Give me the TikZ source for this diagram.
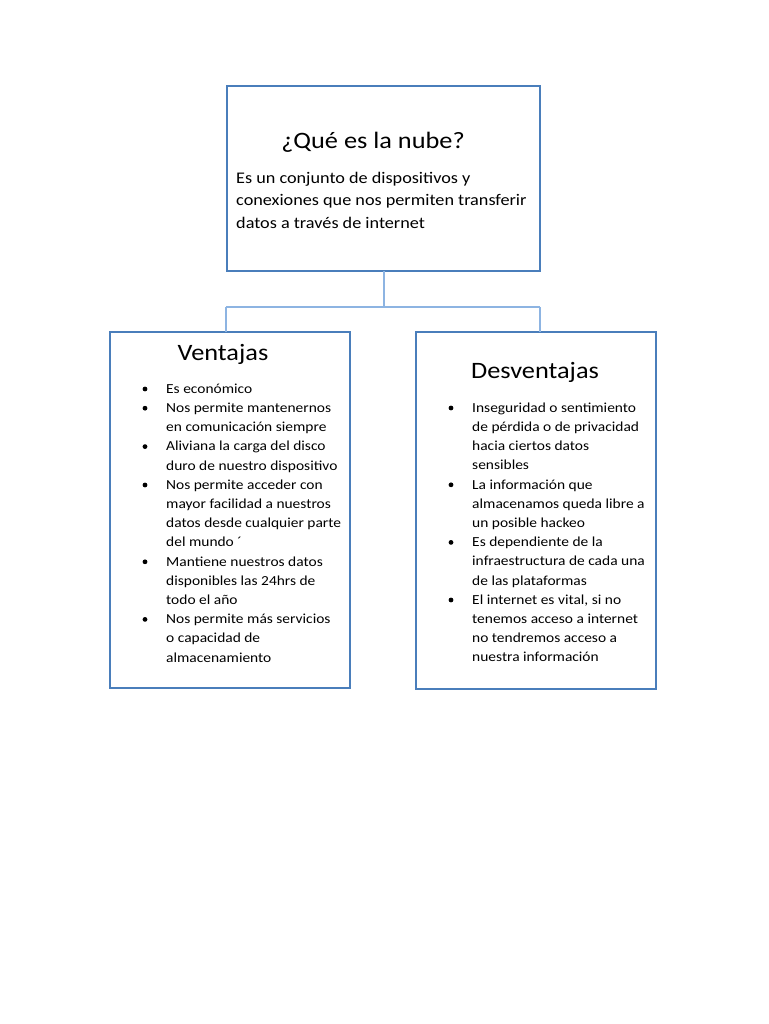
\documentclass[tikz,border=0pt]{standalone}
\usepackage{fontspec}
\setmainfont{Carlito}[FakeStretch=1.12]
\definecolor{boxblue}{RGB}{74,126,187}
\definecolor{linkblue}{RGB}{141,180,226}
\tikzset{
  box/.style={draw=boxblue, line width=1.2pt},
  link/.style={draw=linkblue, line width=1.5pt},
  head/.style={font=\fontsize{23.5}{27}\selectfont, inner sep=0pt, anchor=mid},
  body/.style={font=\fontsize{16.25}{22.5}\selectfont, inner sep=0pt, anchor=mid west},
  item/.style={font=\fontsize{13.8}{19}\selectfont, inner sep=0pt, anchor=mid west},
  bul/.style={circle, fill=black, inner sep=0pt, minimum size=4.8pt}
}
\begin{document}
\begin{tikzpicture}[x=1pt, y=-1pt]
\useasboundingbox[fill=white] (0,0) rectangle (768,1024);
% boxes
\draw[box] (227,86) rectangle (540,271);
\draw[box] (110,332) rectangle (350,688);
\draw[box] (416,332) rectangle (656,689);
\coordinate (topb) at (384,271);
\coordinate (mid) at (384,307);
\coordinate (lft) at (226,307);
\coordinate (rgt) at (540,307);
\coordinate (lbox) at (226,332);
\coordinate (rbox) at (540,332);
\draw[link] (topb) -- (mid);
\draw[link] (lft) -- (rgt);
\draw[link] (lft) -- (lbox);
\draw[link] (rgt) -- (rbox);
% top box text
\node[head] (qtitle) at (373,146) {¿Qué es la nube?};
\node[body] (q1) at (236,181) {Es un conjunto de dispositivos y};
\node[body] (q2) at (236,203.5) {conexiones que nos permiten transferir};
\node[body] (q3) at (236,226) {datos a través de internet};
% Ventajas
\node[head] (vtitle) at (223,358) {Ventajas};
\foreach \t [count=\i] in {Es económico, Nos permite mantenernos, en comunicación siempre, Aliviana la carga del disco, duro de nuestro dispositivo, Nos permite acceder con, mayor facilidad a nuestros, datos desde cualquier parte, del mundo ´, Mantiene nuestros datos, disponibles las 24hrs de, todo el año, Nos permite más servicios, o capacidad de, almacenamiento}
  \node[item] (v\i) at (166,{391+19.2*(\i-1)}) {\t};
\foreach \i in {1,2,4,6,10,13}
  \node[bul] (vb\i) at (145,{389+19.2*(\i-1)}) {};
% Desventajas
\node[head] (dtitle) at (535,376) {Desventajas};
\foreach \t [count=\i] in {Inseguridad o sentimiento, de pérdida o de privacidad, hacia ciertos datos, sensibles, La información que, almacenamos queda libre a, un posible hackeo, Es dependiente de la, infraestructura de cada una, de las plataformas, {El internet es vital, si no}, tenemos acceso a internet, no tendremos acceso a, nuestra información}
  \node[item] (d\i) at (472,{410+19.2*(\i-1)}) {\t};
\foreach \i in {1,5,8,11}
  \node[bul] (db\i) at (451,{408+19.2*(\i-1)}) {};
\end{tikzpicture}
\end{document}
